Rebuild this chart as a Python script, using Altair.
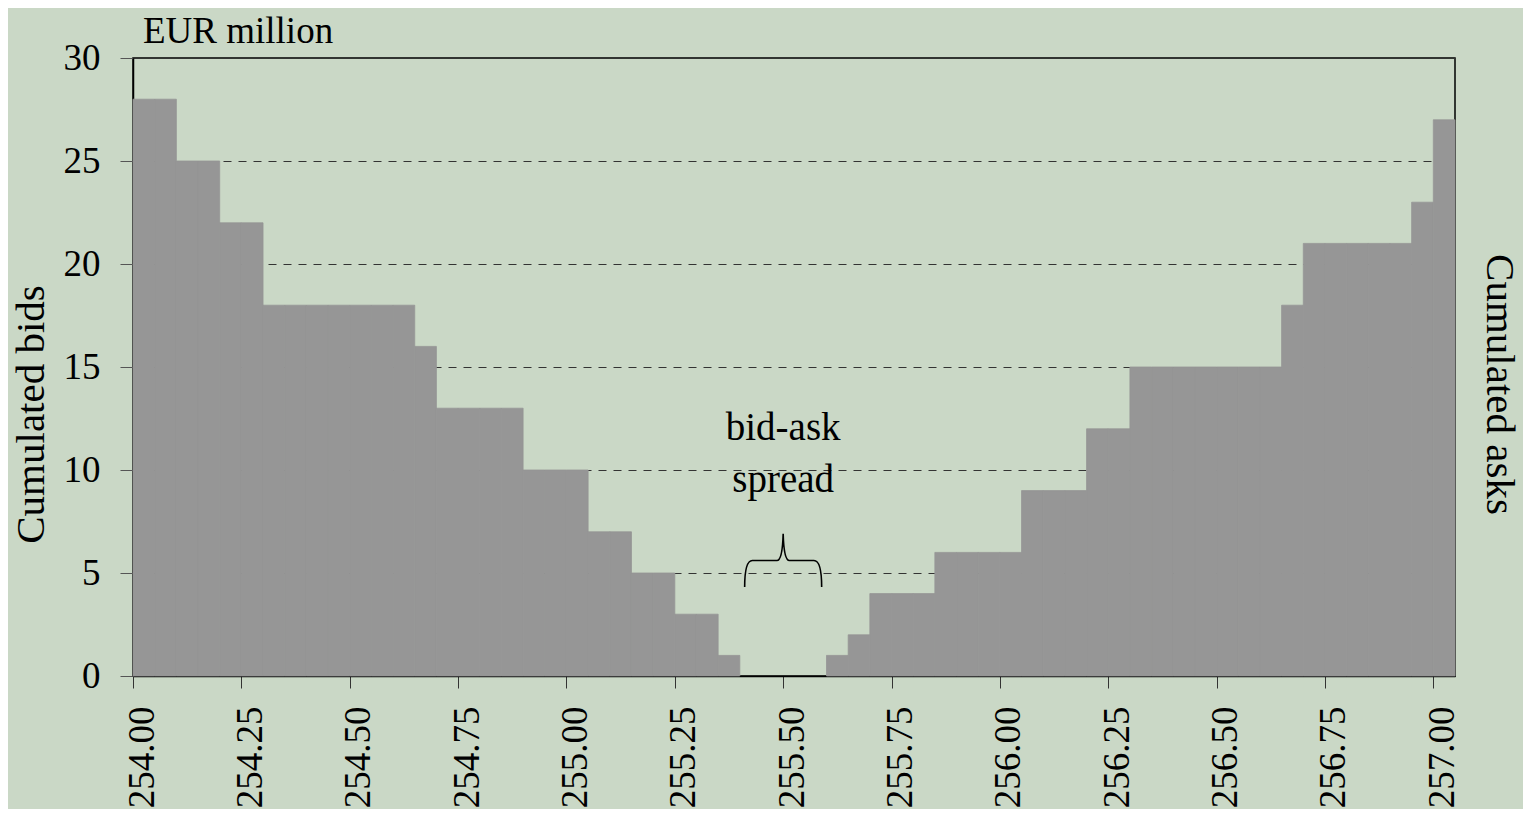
import altair as alt
import pandas as pd

# ---- data ----
prices = [
    254.00, 254.05, 254.10, 254.15, 254.20, 254.25, 254.30, 254.35, 254.40, 254.45,
    254.50, 254.55, 254.60, 254.65, 254.70, 254.75, 254.80, 254.85, 254.90, 254.95,
    255.00, 255.05, 255.10, 255.15, 255.20, 255.25, 255.30, 255.35, 255.40, 255.45,
    255.50, 255.55, 255.60, 255.65, 255.70, 255.75, 255.80, 255.85, 255.90, 255.95,
    256.00, 256.05, 256.10, 256.15, 256.20, 256.25, 256.30, 256.35, 256.40, 256.45,
    256.50, 256.55, 256.60, 256.65, 256.70, 256.75, 256.80, 256.85, 256.90, 256.95,
    257.00,
]
volumes = [
    28, 28, 25, 25, 22, 22, 18, 18, 18, 18,
    18, 18, 18, 16, 13, 13, 13, 13, 10, 10,
    10, 7, 7, 5, 5, 3, 3, 1, 0, 0,
    0, 0, 1, 2, 4, 4, 4, 6, 6, 6,
    6, 9, 9, 9, 12, 12, 15, 15, 15, 15,
    15, 15, 15, 18, 21, 21, 21, 21, 21, 23,
    27,
]
bin_width = 0.05
x_ticks = [254.00, 254.25, 254.50, 254.75, 255.00, 255.25, 255.50,
           255.75, 256.00, 256.25, 256.50, 256.75, 257.00]
y_ticks = [0, 5, 10, 15, 20, 25, 30]
x_domain = [254.00, 257.05]
y_domain = [0, 30]

note_lines = ["bid-ask", "spread"]
note_x = [255.50, 255.50]
note_y = [11.45, 8.93]
brace_x = [255.50]
brace_y = [5.61]
unit_label = ["EUR million"]
left_title = "Cumulated bids"
right_title = "Cumulated asks"

FONT = "Liberation Serif"
BG = "#cad8c6"
BAR = "#969696"

df = pd.DataFrame({"price": prices, "volume": volumes})
df["price_end"] = df["price"] + bin_width
notes = pd.DataFrame({"x": note_x, "y": note_y, "t": note_lines})
brace = pd.DataFrame({"x": brace_x, "y": brace_y})
unit = pd.DataFrame({"x": [x_domain[0]], "y": [y_domain[1]], "t": unit_label})

xs = alt.Scale(domain=x_domain, nice=False, zero=False)
ys = alt.Scale(domain=y_domain, nice=False, zero=False)

bars = alt.Chart(df).transform_filter("datum.volume > 0").mark_rect(
    color=BAR, stroke=BAR, strokeWidth=0.8
).encode(
    x=alt.X("price:Q", scale=xs, axis=alt.Axis(
        values=x_ticks, format=".2f", labelAngle=-90, tickSize=12,
        labelPadding=18, labelOffset=9, title=None, grid=False,
        labelFont=FONT, labelFontSize=37, labelColor="black",
        tickColor="#333", domainColor="black", domainWidth=1.5,
    )),
    x2="price_end:Q",
    y=alt.Y("volume:Q", scale=ys, axis=alt.Axis(
        values=y_ticks, tickSize=13, labelPadding=20,
        labelFont=FONT, labelFontSize=37, labelColor="black",
        tickColor="#555", domainColor="black", domainWidth=1.5,
        grid=True, gridDash=[8, 7], gridColor="#333", gridWidth=1, gridOpacity=1,
        title=left_title, titleFont=FONT, titleFontSize=41, titleFontWeight="normal",
        titleColor="black", titlePadding=11, titleY=356,
    )),
    y2=alt.datum(0),
)

asks_axis = alt.Chart(df).mark_rect(opacity=0).encode(
    x=alt.X("price:Q", scale=xs, axis=None),
    x2="price_end:Q",
    y=alt.Y("volume:Q", scale=ys, axis=alt.Axis(
        orient="right", labels=False, ticks=False, domain=False, grid=False,
        title=right_title, titleFont=FONT, titleFontSize=41, titleFontWeight="normal",
        titleColor="black", titleAngle=90, titlePadding=22, titleY=326,
    )),
    y2=alt.datum(0),
)

note_text = alt.Chart(notes).mark_text(
    font=FONT, fontSize=39, color="black", align="center", baseline="alphabetic"
).encode(
    x=alt.X("x:Q", scale=xs, axis=None),
    y=alt.Y("y:Q", scale=ys, axis=None),
    text="t:N",
)

brace_path = ("M -1 0.69 Q -1 0 -0.8 0 L -0.16 0 Q -0.02 0 0 -0.69 "
              "Q 0.02 0 0.16 0 L 0.8 0 Q 1 0 1 0.69")
brace_mark = alt.Chart(brace).mark_point(
    shape=brace_path, filled=False, stroke="black", strokeWidth=1.6,
    size=5929, opacity=1,
).encode(
    x=alt.X("x:Q", scale=xs, axis=None),
    y=alt.Y("y:Q", scale=ys, axis=None),
)

unit_text = alt.Chart(unit).mark_text(
    font=FONT, fontSize=37, color="black", align="left", baseline="alphabetic",
    dx=10, dy=-15,
).encode(
    x=alt.X("x:Q", scale=xs, axis=None),
    y=alt.Y("y:Q", scale=ys, axis=None),
    text="t:N",
)

chart = alt.layer(bars, asks_axis, note_text, brace_mark, unit_text).resolve_axis(
    x="independent", y="independent"
).properties(
    width=1322, height=618, background=BG,
    autosize="none",
    padding={"left": 125, "top": 50, "right": 68, "bottom": 133},
).configure_view(stroke="black", strokeWidth=1.5)

chart.save("out.html", embed_options={"renderer": "svg", "actions": False})
